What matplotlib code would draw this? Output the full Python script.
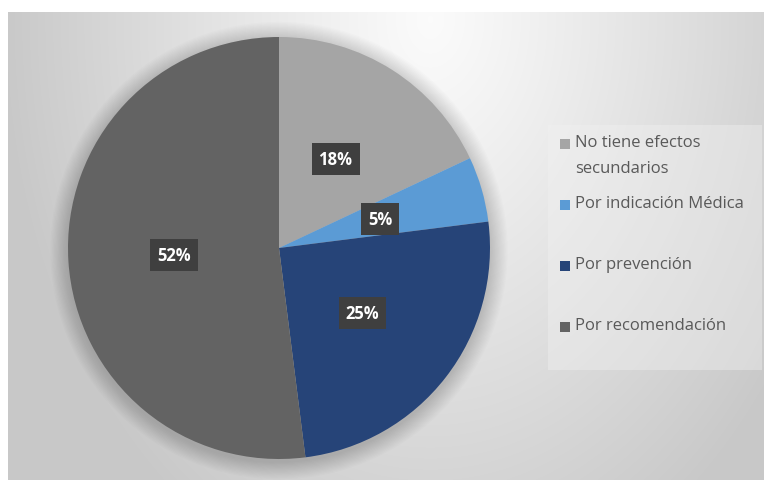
import numpy as np
import matplotlib
matplotlib.use('Agg')
import matplotlib.pyplot as plt
from matplotlib.patches import Circle, Rectangle

# datos del gráfico
labels = ['No tiene efectos\nsecundarios', 'Por indicación Médica',
          'Por prevención', 'Por recomendación']
values = [18, 5, 25, 52]
colors = ['#A5A5A5', '#5B9BD5', '#264478', '#636363']

W, H = 764, 481
fig = plt.figure(figsize=(W / 100, H / 100), dpi=100)
fig.patch.set_facecolor('white')

# ── fondo con degradado radial (estilo Excel) ───────────────────────────
bg = fig.add_axes([8 / W, 0, (W - 8) / W, (H - 13) / H])
yy, xx = np.mgrid[13:H, 8:W]
r = np.sqrt(((xx - 430) / 430.0) ** 2 + ((yy - 20) / 600.0) ** 2)
v = 0.985 - 0.20 * np.clip(r, 0, 1) ** 1.1
bg.imshow(np.dstack([v, v, v]), aspect='auto', extent=[0, 1, 0, 1])
bg.set_axis_off()

# ── pastel ──────────────────────────────────────────────────────────────
cx, cy, R = 279, 249, 211
ax = fig.add_axes([(cx - R) / W, (H - cy - R) / H, 2 * R / W, 2 * R / H])
ax.set_axis_off()

# sombra suave alrededor del pastel
for k in range(14):
    ax.add_patch(Circle((0.0, -0.012), 1.0 + 0.006 * (k + 1),
                        color='black', alpha=0.013, lw=0, zorder=0,
                        clip_on=False))

wedges, texts = ax.pie(values, colors=colors, startangle=90, counterclock=False,
                       radius=1.0, wedgeprops=dict(linewidth=0),
                       labels=[f'{p}%' for p in values], labeldistance=0.5,
                       textprops=dict(color='white', fontsize=12,
                                      fontweight='bold', family='Open Sans',
                                      ha='center', va='center'))
for w in wedges:
    w.set_zorder(2)
for t in texts:
    t.set_zorder(3)
    t.set_bbox(dict(boxstyle='square,pad=0.42', fc='#3f3f3f', ec='none'))
ax.set_xlim(-1, 1)
ax.set_ylim(-1, 1)

# ── leyenda manual ──────────────────────────────────────────────────────
fig.patches.append(Rectangle((548 / W, (H - 371) / H), 214 / W, 245 / H,
                             transform=fig.transFigure, fc='#f2f2f2',
                             ec='none', alpha=0.4))
y0, step = 145, 61
for i, (lab, col) in enumerate(zip(labels, colors)):
    yc = y0 + i * step
    fig.patches.append(Rectangle((560 / W, (H - yc - 5) / H), 10 / W, 10 / H,
                                 transform=fig.transFigure, fc=col, ec='none'))
    fig.text(575 / W, (H - yc + 10) / H, lab, ha='left', va='top',
             fontsize=12, color='#595959', family='Open Sans',
             linespacing=1.85)

fig.savefig('out.png', dpi=100)
